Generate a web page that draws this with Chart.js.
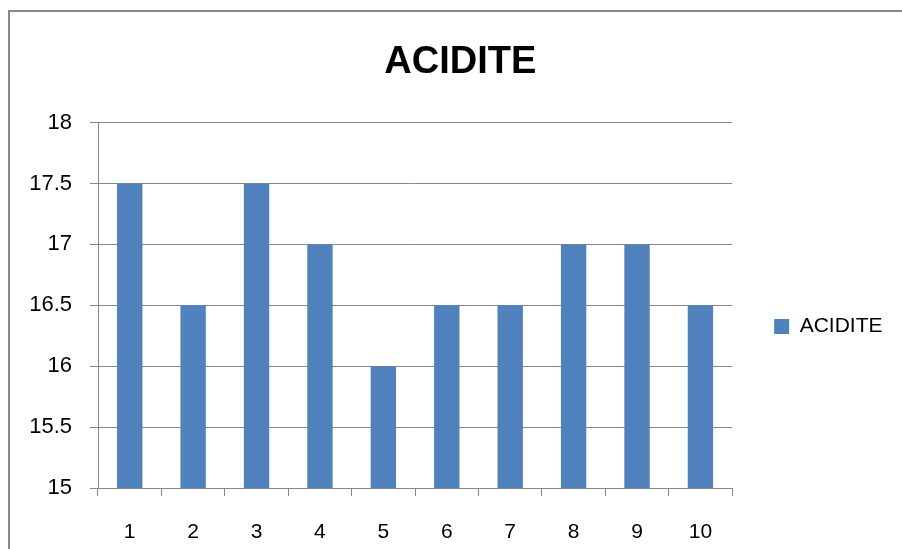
<!DOCTYPE html>
<html>
<head>
<meta charset="utf-8">
<script src="https://cdn.jsdelivr.net/npm/chart.js@4/dist/chart.umd.min.js"></script>
<style>
  html, body { margin: 0; padding: 0; background: #ffffff; overflow: hidden; }
  #frame {
    position: absolute; left: 8px; top: 10px; width: 1000px; height: 700px;
    border-left: 2px solid #888888; border-top: 2px solid #888888;
    box-sizing: border-box;
  }
  #wrap { position: absolute; left: 0; top: 0; width: 902px; height: 549px; }
</style>
</head>
<body>
<div id="frame"></div>
<div id="wrap"><canvas id="chart" width="902" height="549"></canvas></div>
<script>
// Acidity readings per sample
const categories = ['1', '2', '3', '4', '5', '6', '7', '8', '9', '10'];
const acidite = [17.5, 16.5, 17.5, 17, 16, 16.5, 16.5, 17, 17, 16.5];
const seriesName = 'ACIDITE';
const yMin = 15, yMax = 18, yStep = 0.5;

const gridColor = '#878787';
const barColor = '#4F81BD';
const font = 'Liberation Sans, Arial, sans-serif';

new Chart(document.getElementById('chart'), {
  type: 'bar',
  data: {
    labels: categories,
    datasets: [{
      label: seriesName,
      data: acidite,
      backgroundColor: barColor,
      borderWidth: 0,
      barPercentage: 0.4,
      categoryPercentage: 1.0
    }]
  },
  options: {
    responsive: false,
    animation: false,
    devicePixelRatio: 1,
    layout: { padding: { left: 28, right: 9.5, top: 0, bottom: 0 } },
    plugins: {
      title: {
        display: true,
        text: 'ACIDITE',
        color: '#000000',
        font: { family: font, size: 38, weight: 'bold' },
        padding: { top: 40, bottom: 37 }
      },
      legend: {
        display: true,
        position: 'right',
        // blank legend title pushes the entry down beside the plot's middle
        title: {
          display: true,
          text: ' ',
          font: { family: font, size: 21 },
          padding: { top: 0, bottom: 79 }
        },
        labels: {
          color: '#000000',
          font: { family: font, size: 21 },
          boxWidth: 15,
          boxHeight: 15,
          padding: 42
        }
      },
      tooltip: { enabled: false }
    },
    scales: {
      x: {
        offset: true,
        grid: {
          display: true,
          offset: true,
          drawOnChartArea: false,
          color: gridColor,
          tickLength: 8
        },
        border: { display: true, color: gridColor, width: 1 },
        ticks: {
          color: '#000000',
          font: { family: font, size: 21 },
          padding: 24,
          maxRotation: 0
        },
        afterFit: (scale) => { scale.height = 61; }
      },
      y: {
        min: yMin,
        max: yMax,
        ticks: {
          stepSize: yStep,
          color: '#000000',
          font: { family: font, size: 22 },
          padding: 18,
          callback: (v) => String(Number(v))
        },
        grid: {
          color: gridColor,
          tickLength: 8
        },
        border: { display: true, color: gridColor, width: 1 },
        afterFit: (scale) => { scale.width = 70; }
      }
    }
  }
});
</script>
</body>
</html>
